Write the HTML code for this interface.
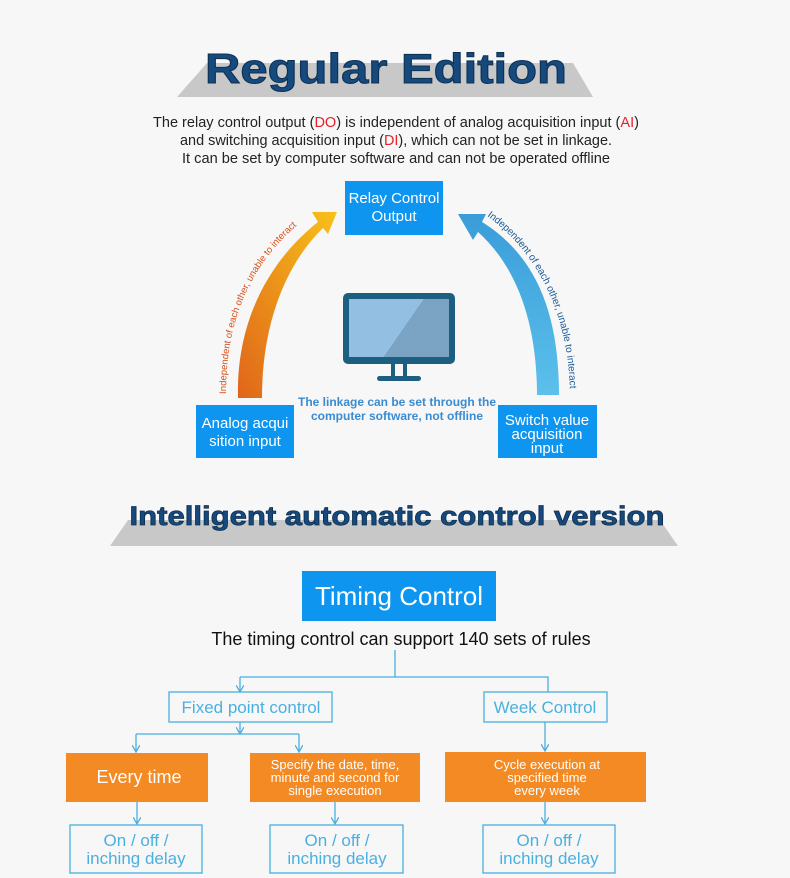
<!DOCTYPE html>
<html><head><meta charset="utf-8"><style>
html,body{margin:0;padding:0;background:#f7f7f7;}
svg{display:block;font-family:"Liberation Sans",sans-serif;}
</style></head><body>
<svg width="790" height="878" viewBox="0 0 790 878" xmlns="http://www.w3.org/2000/svg">
<defs>
<linearGradient id="og" x1="0" y1="1" x2="1" y2="0"><stop offset="0" stop-color="#e0651a"/><stop offset="1" stop-color="#f7c21a"/></linearGradient>
<linearGradient id="bg2" x1="0" y1="1" x2="0" y2="0"><stop offset="0" stop-color="#5bc0ec"/><stop offset="1" stop-color="#3a9cd8"/></linearGradient>
<marker id="ar" markerWidth="8" markerHeight="8" refX="7" refY="4" orient="auto" markerUnits="userSpaceOnUse"><path d="M0,0 L7,4 L0,8" fill="none" stroke="#4ab0e0" stroke-width="1.3"/></marker>
<path id="lp" d="M226,394 C226,320 250,262 306,218"/>
<path id="rp" d="M487,216 C535,250 568,310 570,392"/>
</defs>
<rect width="790" height="878" fill="#f7f7f7"/>
<polygon points="207,63 573,63 593,97 177,97" fill="#c8c8c8"/>
<text x="386" y="83" text-anchor="middle" font-size="42" font-weight="bold" fill="#164a7e" stroke="#0e3050" stroke-width="1" textLength="362" lengthAdjust="spacingAndGlyphs">Regular  Edition</text>
<g font-size="15" fill="#222" text-anchor="middle">
<text x="396" y="127" textLength="486" lengthAdjust="spacingAndGlyphs">The relay control output (<tspan fill="#e8202a">DO</tspan>) is independent of analog acquisition input (<tspan fill="#e8202a">AI</tspan>)</text>
<text x="396" y="145" textLength="432" lengthAdjust="spacingAndGlyphs">and switching acquisition input (<tspan fill="#e8202a">DI</tspan>), which can not be set in linkage.</text>
<text x="396" y="163" textLength="428" lengthAdjust="spacingAndGlyphs">It can be set by computer software and can not be operated offline</text>
</g>
<path d="M238,398 C236,320 270,260 318,222 L312,212 L337,212 L328,234 L323,228 C282,268 262,330 262,398 Z" fill="url(#og)"/>
<path d="M537,395 C537,320 515,265 478,232 L473,240 L458,214 L486,214 L482,222 C540,258 559,320 559,395 Z" fill="url(#bg2)"/>
<text font-size="9.5" fill="#d8501a"><textPath href="#lp">Independent of each other, unable to interact</textPath></text>
<text font-size="10" fill="#1a5a9a"><textPath href="#rp">Independent of each other, unable to interact</textPath></text>
<rect x="345" y="181" width="98" height="54" fill="#0e95f0"/>
<text x="394" y="203" text-anchor="middle" font-size="15" fill="#fff">Relay Control</text>
<text x="394" y="221" text-anchor="middle" font-size="15" fill="#fff">Output</text>
<rect x="196" y="405" width="98" height="53" fill="#0e95f0"/>
<text x="245" y="428" text-anchor="middle" font-size="15" fill="#fff">Analog acqui</text>
<text x="245" y="446" text-anchor="middle" font-size="15" fill="#fff">sition input</text>
<rect x="498" y="405" width="99" height="53" fill="#0e95f0"/>
<text x="547" y="425" text-anchor="middle" font-size="15" fill="#fff">Switch value</text>
<text x="547" y="439" text-anchor="middle" font-size="15" fill="#fff">acquisition</text>
<text x="547" y="453" text-anchor="middle" font-size="15" fill="#fff">input</text>
<rect x="343" y="293" width="112" height="71" rx="5" fill="#1d5f80"/>
<polygon points="349,299 424,299 384,357 349,357" fill="#93bfe3"/>
<polygon points="424,299 449,299 449,357 384,357" fill="#7aa3c4"/>
<rect x="391" y="364" width="4" height="13" fill="#1d5f80"/><rect x="403" y="364" width="4" height="13" fill="#1d5f80"/>
<rect x="377" y="376" width="44" height="5" rx="2.5" fill="#1d5f80"/>
<text x="397" y="406" text-anchor="middle" font-size="12" font-weight="bold" fill="#3a8bd0">The linkage can be set through the</text>
<text x="397" y="420" text-anchor="middle" font-size="12" font-weight="bold" fill="#3a8bd0">computer software, not offline</text>
<polygon points="128,520 660,520 678,546 110,546" fill="#c8c8c8"/>
<text x="397" y="525" text-anchor="middle" font-size="27" font-weight="bold" fill="#164a7e" stroke="#0e3050" stroke-width="0.8" textLength="535" lengthAdjust="spacingAndGlyphs">Intelligent automatic control version</text>
<rect x="302" y="571" width="194" height="50" fill="#0e95f0"/>
<text x="399" y="605" text-anchor="middle" font-size="26" fill="#fff">Timing Control</text>
<text x="401" y="645" text-anchor="middle" font-size="18" fill="#111">The timing control can support 140 sets of rules</text>
<g stroke="#4ab0e0" stroke-width="1.3" fill="none">
<path d="M395,650 V677 M240,677 H548 V692"/>
<path d="M240,677 V692" marker-end="url(#ar)"/>
<path d="M240,722 V734" marker-end="url(#ar)"/>
<path d="M136,734 H299"/>
<path d="M136,734 V752" marker-end="url(#ar)"/>
<path d="M299,734 V752" marker-end="url(#ar)"/>
<path d="M545,722 V751" marker-end="url(#ar)"/>
<path d="M137,802 V824" marker-end="url(#ar)"/>
<path d="M335,802 V824" marker-end="url(#ar)"/>
<path d="M545,802 V824" marker-end="url(#ar)"/>
<rect x="169" y="692" width="163" height="30"/>
<rect x="484" y="692" width="123" height="30"/>
<rect x="70" y="825" width="132" height="48"/>
<rect x="270" y="825" width="133" height="48"/>
<rect x="483" y="825" width="132" height="48"/>
</g>
<g fill="#4ab0e0" font-size="17" text-anchor="middle">
<text x="251" y="713">Fixed point control</text>
<text x="545" y="713">Week Control</text>
<text x="136" y="846">On / off /</text><text x="136" y="864">inching delay</text>
<text x="337" y="846">On / off /</text><text x="337" y="864">inching delay</text>
<text x="549" y="846">On / off /</text><text x="549" y="864">inching delay</text>
</g>
<rect x="66" y="753" width="142" height="49" fill="#f38a24"/>
<rect x="250" y="753" width="170" height="49" fill="#f38a24"/>
<rect x="445" y="752" width="201" height="50" fill="#f38a24"/>
<g fill="#fff" text-anchor="middle">
<text x="139" y="783" font-size="18">Every time</text>
<text x="335" y="769" font-size="13">Specify the date, time,</text>
<text x="335" y="782" font-size="13">minute and second for</text>
<text x="335" y="795" font-size="13">single execution</text>
<text x="547" y="769" font-size="13">Cycle execution at</text>
<text x="547" y="782" font-size="13">specified time</text>
<text x="547" y="795" font-size="13">every week</text>
</g>
</svg>
</body></html>
